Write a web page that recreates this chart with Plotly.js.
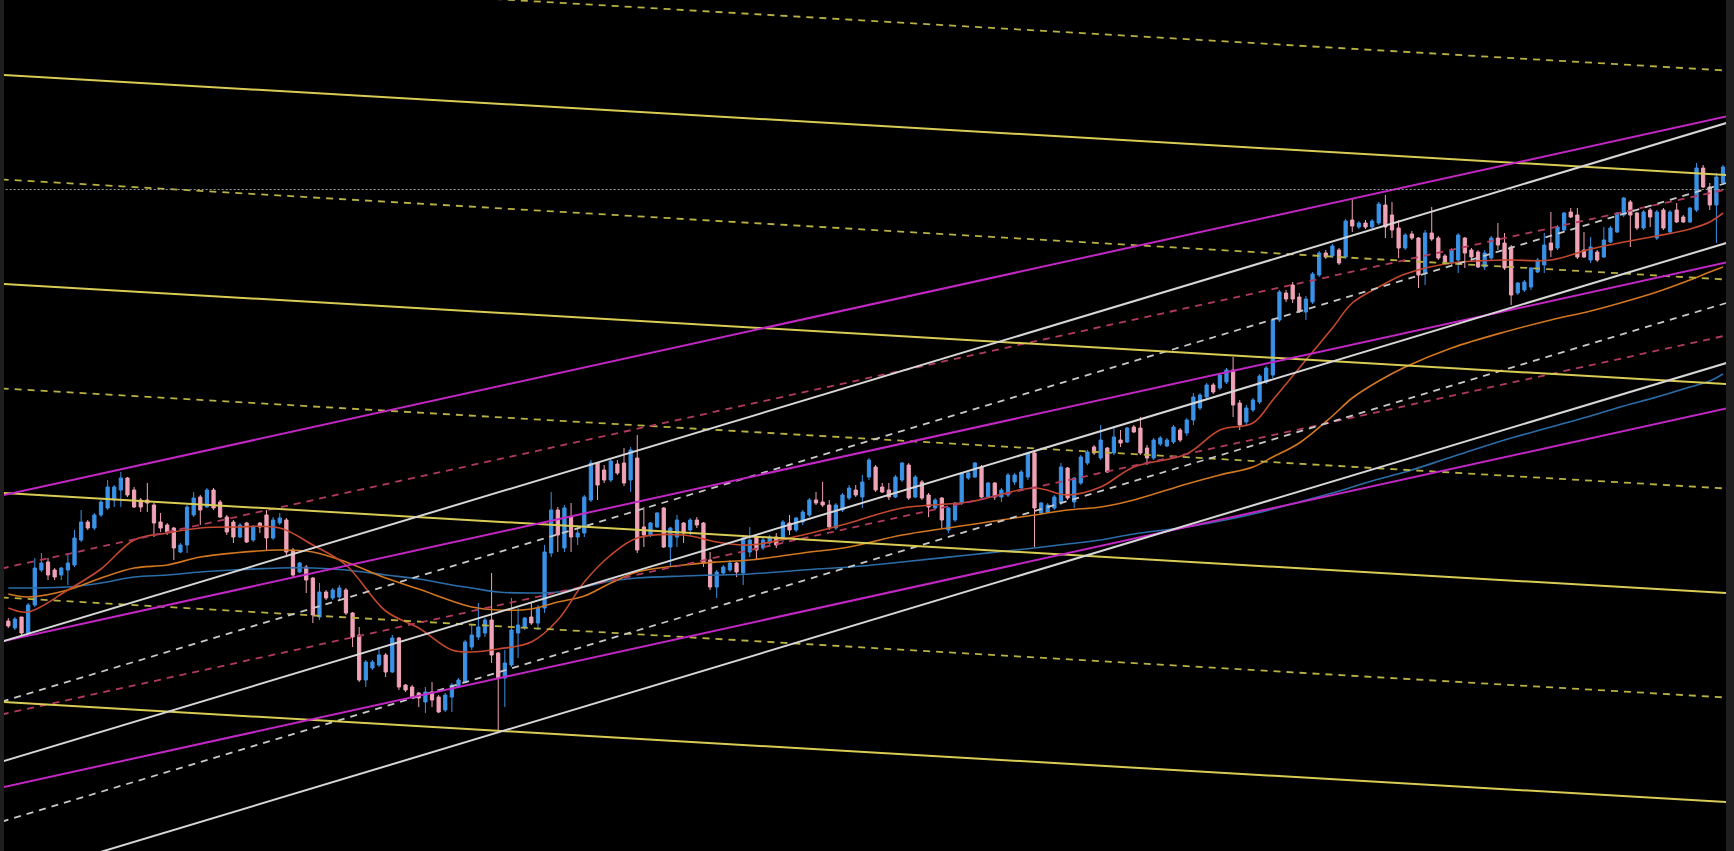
<!DOCTYPE html>
<html><head><meta charset="utf-8">
<script src="https://cdn.plot.ly/plotly-3.0.1.min.js"></script>
<style>html,body{margin:0;padding:0;background:#1f1f1f;overflow:hidden}</style>
</head><body><div id="chart" style="width:1734px;height:851px"></div>
<script>
// ---- candle data (price units) ----
const openP = [379,372,383,367,395,430,438,430,425,430,435,460,478,472,485,492,500,510,522,510,500,500,495,478,475,472,448,455,485,503,493,510,498,483,478,463,477,460,477,485,462,477,480,450,428,433,422,383,408,402,403,410,387,365,320,332,335,345,328,362,315,313,307,298,308,303,290,303,313,318,353,363,367,380,347,322,335,367,373,383,377,392,447,490,452,483,463,467,500,537,530,520,536,537,520,542,473,465,473,492,453,463,477,470,480,477,440,413,427,430,437,427,448,463,452,457,463,462,477,470,478,485,500,498,495,472,490,502,510,503,523,533,513,510,503,520,535,503,518,505,492,502,470,480,497,522,523,533,503,517,503,505,518,512,523,547,487,488,492,497,532,498,517,537,553,542,552,547,560,558,573,572,552,542,556,554,558,570,567,580,592,603,615,612,618,630,597,578,590,598,618,625,680,707,715,703,688,698,725,747,744,750,743,780,773,777,773,777,795,785,772,752,766,762,727,767,762,744,737,740,762,750,748,733,742,762,757,753,707,710,713,728,735,757,752,770,788,785,750,740,748,743,758,768,785,798,787,772,790,762,790,768,790,783,778,790,832,813,795,817];
const closeP = [374,381,367,395,432,437,425,423,432,437,462,478,472,485,498,513,513,522,505,493,493,497,477,472,468,452,455,493,502,490,510,492,483,468,463,475,458,473,473,462,480,482,448,425,437,420,385,408,402,410,412,387,363,320,338,338,345,328,362,313,310,303,302,308,300,288,305,315,320,358,365,373,380,345,322,337,370,375,382,377,392,448,490,465,492,463,467,503,537,515,520,539,527,517,550,450,465,477,487,453,472,480,467,480,475,437,413,428,433,437,428,462,460,450,460,463,455,478,470,482,488,500,497,495,473,495,505,512,505,518,540,510,508,503,523,537,502,523,502,493,500,480,492,497,527,527,537,503,517,503,510,525,525,528,547,492,497,495,503,533,502,522,543,548,547,560,528,563,557,572,568,547,542,560,562,560,573,560,580,603,605,615,608,625,630,595,575,592,600,624,632,680,708,701,701,689,701,726,747,743,754,737,779,774,777,773,779,796,773,770,752,765,762,725,767,761,742,738,750,765,747,743,733,747,762,755,732,705,717,718,732,740,755,750,773,787,783,743,743,753,740,760,772,787,802,785,772,788,783,788,772,788,778,778,792,832,813,795,823,833];
const highP = [382,383,383,397,442,447,442,432,433,447,470,490,480,487,500,520,515,528,523,513,502,517,497,487,477,473,457,495,508,505,512,512,500,485,480,477,478,475,478,490,483,487,482,452,438,435,423,417,410,412,415,412,388,373,340,340,353,347,365,363,316,315,308,313,318,305,307,317,322,360,375,397,382,427,348,350,402,392,383,397,395,455,508,493,495,497,475,505,540,538,535,542,540,552,553,565,493,478,488,493,473,485,478,482,483,478,448,430,435,440,438,463,473,465,462,465,467,480,485,483,490,502,508,518,500,497,507,515,515,525,542,535,517,517,525,538,537,525,520,507,502,503,493,498,528,528,538,535,518,518,512,527,527,530,548,548,498,497,505,537,533,523,545,550,555,575,553,572,570,573,575,583,555,562,564,562,575,572,582,607,607,617,617,627,632,643,600,595,602,626,634,682,710,710,718,707,704,728,749,750,756,752,781,802,779,780,781,798,805,798,780,767,769,763,770,793,764,746,752,767,763,752,750,750,764,777,767,755,718,720,733,742,767,788,775,788,792,792,768,763,750,773,774,788,803,800,788,790,792,790,792,790,797,785,793,837,835,817,827,835];
const lowP = [372,370,365,365,393,428,420,420,420,415,433,458,470,470,483,490,493,493,503,492,488,488,463,468,465,440,447,447,483,475,492,490,482,465,457,462,457,458,467,450,460,475,445,423,427,407,377,380,400,400,400,385,353,318,313,330,333,323,327,310,308,301,293,287,293,287,288,288,312,317,350,360,363,337,270,293,333,342,370,375,370,387,443,448,448,448,455,463,498,500,517,518,525,514,508,447,453,463,472,452,433,453,457,465,472,433,410,402,425,428,423,415,443,440,450,453,452,458,465,468,475,483,495,493,470,470,488,500,503,492,520,508,507,500,502,518,500,502,500,483,490,472,467,478,495,520,522,502,502,500,498,503,515,510,520,453,485,487,490,495,500,492,515,535,545,540,527,545,553,557,567,545,535,540,554,553,556,558,564,575,590,601,606,610,616,583,570,575,588,596,616,622,678,698,697,687,680,696,723,741,742,735,741,768,771,771,771,775,762,762,742,750,760,712,715,759,740,736,735,727,732,740,732,730,740,750,730,695,705,708,710,727,727,743,750,768,782,741,742,737,738,742,757,767,783,753,770,770,773,760,770,767,777,777,777,788,812,790,757,815];

// ---- moving averages (read at sample candles) ----
const maIdx  = [0,3,9,14,19,24,29,34,41,46,51,57,62,67,70,74,79,83,87,91,95,102,107,112,120,127,135,145,155,160,165,170,178,183,188,191,195,200,203,207,211,218,226,233,239,244,249,254,257,259];
const maFast = [392,388,410,431,460,467,472,473,472,455,435,389,372,350,348,351,358,380,418,445,462,465,458,455,465,477,492,498,512,505,513,533,546,570,577,600,632,672,697,713,726,737,740,740,751,758,764,771,778,787];
const maMid  = [406,403,410,422,432,435,443,447,450,448,438,422,411,399,393,390,391,398,404,417,428,435,438,440,447,453,465,475,485,490,493,500,516,525,533,543,557,584,602,619,633,652,668,680,689,698,708,720,728,733];
const maSlow = [412,412,413,417,423,425,428,430,432,432,430,425,421,415,412,408,407,408,413,419,422,424,425,426,430,433,438,445,452,456,460,466,473,479,486,491,498,507,513,521,528,543,560,573,584,594,603,613,619,626];

// ---- channel lines: value at first / last anchor candle ----
const lineX = [-1, 260];
const yellowSolidStart = [925.1, 716.1, 507.1, 298.1];
const yellowSolidEnd   = [824.8, 615.8, 406.8, 197.8];
const yellowDashStart  = [1029.6, 820.6, 611.6, 402.6];
const yellowDashEnd    = [929.3, 720.3, 511.3, 302.3];
const magentaSolidStart = [504.5, 358.5, 212.5];
const magentaSolidEnd   = [884.3, 738.3, 592.3];
const magentaDashStart  = [431.5, 285.5];
const magentaDashEnd    = [811.3, 665.3];
const whiteSolidStart = [358.3, 238.3, 118.3];
const whiteSolidEnd   = [878.0, 758.0, 638.0];
const whiteDashStart  = [298.3, 178.3];
const whiteDashEnd    = [818.0, 698.0];
const lastPrice = 810.5;

const idx = openP.map((_, i) => i);

function channel(starts, ends, color, width, dash) {
  const xs = [], ys = [];
  for (let k = 0; k < starts.length; k++) {
    xs.push(lineX[0], lineX[1], null);
    ys.push(starts[k], ends[k], null);
  }
  return {type:'scatter', mode:'lines', x:xs, y:ys, hoverinfo:'skip', showlegend:false,
          line:{color:color, width:width, dash:dash || 'solid'}};
}

const traces = [
  {type:'candlestick', x:idx, open:openP, high:highP, low:lowP, close:closeP,
   increasing:{line:{color:'#3a92e6', width:1}, fillcolor:'#3a92e6'},
   decreasing:{line:{color:'#f0a3b6', width:1}, fillcolor:'#f0a3b6'},
   whiskerwidth:0, hoverinfo:'skip', showlegend:false},
  {type:'scatter', mode:'lines', x:maIdx, y:maSlow, line:{color:'#2c6da8', width:1.6, shape:'spline'}, hoverinfo:'skip', showlegend:false},
  {type:'scatter', mode:'lines', x:maIdx, y:maMid, line:{color:'#d2771f', width:1.6, shape:'spline'}, hoverinfo:'skip', showlegend:false},
  {type:'scatter', mode:'lines', x:maIdx, y:maFast, line:{color:'#c4482e', width:1.6, shape:'spline'}, hoverinfo:'skip', showlegend:false},
  channel(yellowDashStart, yellowDashEnd, '#b9b143', 1.8, '7px,6px'),
  channel(magentaDashStart, magentaDashEnd, '#b23a5e', 1.8, '7px,6px'),
  channel(whiteDashStart, whiteDashEnd, '#c8c8c8', 1.8, '7px,6px'),
  channel(yellowSolidStart, yellowSolidEnd, '#d9cc55', 2),
  channel(magentaSolidStart, magentaSolidEnd, '#c226c4', 2),
  channel(whiteSolidStart, whiteSolidEnd, '#d6d6d6', 2),
  {type:'scatter', mode:'lines', x:lineX, y:[lastPrice, lastPrice], line:{color:'#9a9a9a', width:1, dash:'2px,2px'}, hoverinfo:'skip', showlegend:false}
];

const layout = {
  width:1734, height:851,
  margin:{l:4, r:8, t:0, b:0},
  paper_bgcolor:'#1f1f1f', plot_bgcolor:'#000000',
  showlegend:false,
  xaxis:{range:[-0.65, 259.45], visible:false, showgrid:false, zeroline:false, rangeslider:{visible:false}, fixedrange:true},
  yaxis:{range:[149, 1000], visible:false, showgrid:false, zeroline:false, fixedrange:true},
  hovermode:false
};

Plotly.newPlot('chart', traces, layout, {displayModeBar:false, staticPlot:true});
</script>
</body></html>
